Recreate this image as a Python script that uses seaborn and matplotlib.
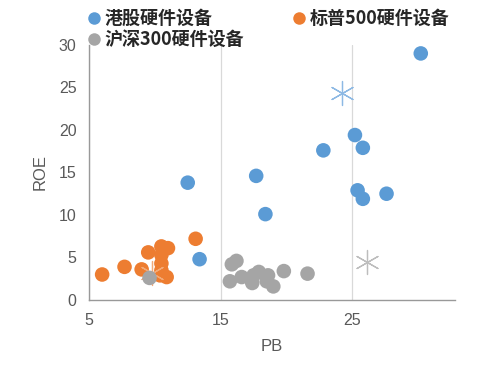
import matplotlib
matplotlib.use("Agg")
import matplotlib.pyplot as plt
import seaborn as sns
import pandas as pd
from matplotlib.lines import Line2D

# 港股硬件设备
hk_pb = [30.2, 12.5, 17.7, 18.4, 22.8, 25.2, 25.8, 25.4, 25.8, 27.6, 13.4]
hk_roe = [29.0, 13.8, 14.6, 10.1, 17.6, 19.4, 17.9, 12.9, 11.9, 12.5, 4.8]
hk_star = (24.2, 24.4)

# 标普500硬件设备
sp_pb = [6.0, 7.7, 9.0, 9.5, 13.1, 10.5, 11.0, 10.5, 10.5, 10.5, 10.9, 10.4]
sp_roe = [3.0, 3.9, 3.6, 5.6, 7.2, 6.3, 6.1, 5.3, 4.3, 3.5, 2.7, 2.9]
sp_star = (9.8, 3.2)

# 沪深300硬件设备
cn_pb = [9.6, 15.85, 16.2, 15.7, 16.6, 17.4, 17.9, 17.5, 18.6, 18.5, 19.0, 19.8, 21.6]
cn_roe = [2.6, 4.2, 4.6, 2.2, 2.7, 2.0, 3.3, 2.9, 2.9, 2.2, 1.6, 3.4, 3.1]
cn_star = (26.1, 4.5)

names = ["港股硬件设备", "标普500硬件设备", "沪深300硬件设备"]
colors = ["#5B9BD5", "#ED7D31", "#A5A5A5"]
star_colors = ["#8DB9E4", "#F2AA78", "#BDBDBD"]

sns.set_style("white")
plt.rcParams["font.family"] = ["Liberation Sans", "DejaVu Sans"]

fig = plt.figure(figsize=(4.82, 3.83), dpi=100)
ax = fig.add_axes([0.1846, 0.2167, 0.7594, 0.666])

groups = [(hk_pb, hk_roe, hk_star), (sp_pb, sp_roe, sp_star), (cn_pb, cn_roe, cn_star)]
for (pb, roe, star), name, c, sc in zip(groups, names, colors, star_colors):
    df = pd.DataFrame({"PB": pb, "ROE": roe})
    sns.scatterplot(data=df, x="PB", y="ROE", ax=ax, color=c, s=110,
                    edgecolor="none", legend=False)
    ax.scatter([star[0]], [star[1]], marker=(6, 2, 0), s=300,
               color=sc, linewidths=0.9)

ax.set_xlim(5, 32.8)
ax.set_ylim(0, 30)
ax.set_xticks([5, 15, 25])
ax.set_yticks([0, 5, 10, 15, 20, 25, 30])
ax.xaxis.grid(True, color="#D9D9D9", linewidth=0.9)
ax.set_axisbelow(True)
for s in ["top", "right"]:
    ax.spines[s].set_visible(False)
for s in ["left", "bottom"]:
    ax.spines[s].set_color("#999999")
    ax.spines[s].set_linewidth(1.0)
ax.tick_params(axis="both", which="major", direction="out", length=5,
               width=1.0, color="#999999", labelsize=11.5, labelcolor="#595959", pad=4)
ax.set_xlabel("PB", fontsize=12, color="#595959", labelpad=8)
ax.set_ylabel("ROE", fontsize=12, color="#595959", labelpad=8)

handles = [Line2D([], [], marker="o", linestyle="none", markersize=9,
                  markerfacecolor=c, markeredgecolor="none") for c in colors]
order = [0, 2, 1]
fig.legend([handles[i] for i in order], [names[i] for i in order],
           loc="upper left", bbox_to_anchor=(0.155, 1.005), ncol=2, frameon=False,
           prop={"family": ["Noto Sans CJK SC"], "weight": "bold", "size": 13},
           handletextpad=0.15, columnspacing=2.6, labelspacing=0.12,
           handlelength=0.9, borderaxespad=0.2)

fig.savefig("out.png", dpi=100)
